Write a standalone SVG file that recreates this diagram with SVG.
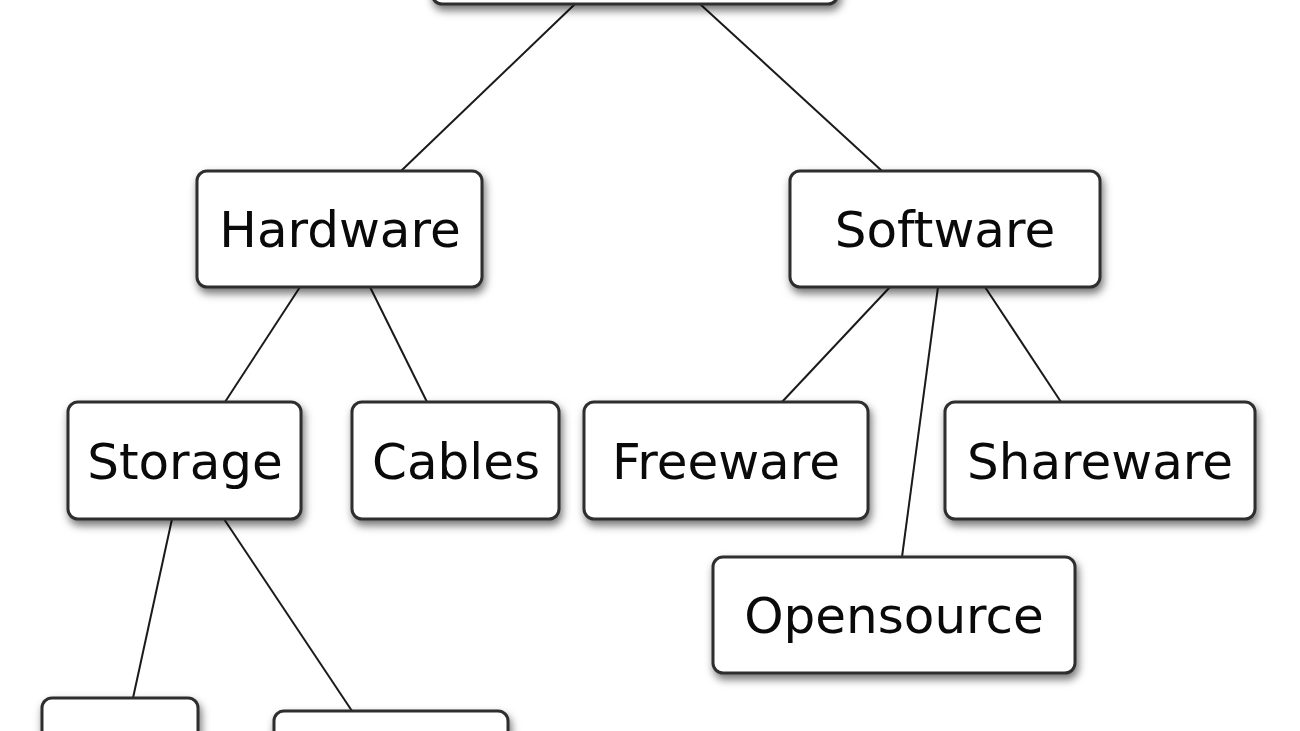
<svg xmlns="http://www.w3.org/2000/svg" width="1300" height="731" viewBox="0 0 1300 731">
  <defs>
    <filter id="sh" x="-10%" y="-20%" width="130%" height="150%">
      <feDropShadow dx="2" dy="5" stdDeviation="4" flood-color="#000" flood-opacity="0.55"/>
    </filter>
  </defs>
  <style>
    .box { fill: #ffffff; stroke: #2e2e2e; stroke-width: 3; filter: url(#sh); }
    .lbl { font-family: "DejaVu Sans", Verdana, sans-serif; font-size: 50px; fill: #0a0a0a; text-anchor: middle; }
    .edge { stroke: #1a1a1a; stroke-width: 2; fill: none; }
  </style>
  <rect width="1300" height="731" fill="#ffffff"/>
  <g id="connectors">
    <line class="edge" x1="575" y1="4" x2="401" y2="171"/>
    <line class="edge" x1="700" y1="4" x2="882" y2="171"/>
    <line class="edge" x1="300" y1="287" x2="225" y2="402"/>
    <line class="edge" x1="370" y1="287" x2="427" y2="402"/>
    <line class="edge" x1="890" y1="287" x2="782" y2="402"/>
    <line class="edge" x1="938" y1="287" x2="902" y2="557"/>
    <line class="edge" x1="985" y1="287" x2="1061" y2="402"/>
    <line class="edge" x1="172" y1="519" x2="133" y2="698"/>
    <line class="edge" x1="224" y1="519" x2="352" y2="711"/>
  </g>
  <g id="root">
    <rect class="box" x="432" y="-110" width="406" height="114" rx="10"/>
  </g>
  <g id="hardware">
    <rect class="box" x="197" y="171" width="285" height="116" rx="10"/>
    <text class="lbl" x="340" y="247">Hardware</text>
  </g>
  <g id="software">
    <rect class="box" x="790" y="171" width="310" height="116" rx="10"/>
    <text class="lbl" x="945" y="247">Software</text>
  </g>
  <g id="storage">
    <rect class="box" x="68" y="402" width="233" height="117" rx="10"/>
    <text class="lbl" x="185" y="479">Storage</text>
  </g>
  <g id="cables">
    <rect class="box" x="352" y="402" width="207" height="117" rx="10"/>
    <text class="lbl" x="456" y="479">Cables</text>
  </g>
  <g id="freeware">
    <rect class="box" x="584" y="402" width="284" height="117" rx="10"/>
    <text class="lbl" x="726" y="479">Freeware</text>
  </g>
  <g id="shareware">
    <rect class="box" x="945" y="402" width="310" height="117" rx="10"/>
    <text class="lbl" x="1100" y="479">Shareware</text>
  </g>
  <g id="opensource">
    <rect class="box" x="713" y="557" width="362" height="116" rx="10"/>
    <text class="lbl" x="894" y="633">Opensource</text>
  </g>
  <g id="leaf1">
    <rect class="box" x="42" y="698" width="156" height="116" rx="10"/>
  </g>
  <g id="leaf2">
    <rect class="box" x="274" y="711" width="234" height="116" rx="10"/>
  </g>
</svg>
